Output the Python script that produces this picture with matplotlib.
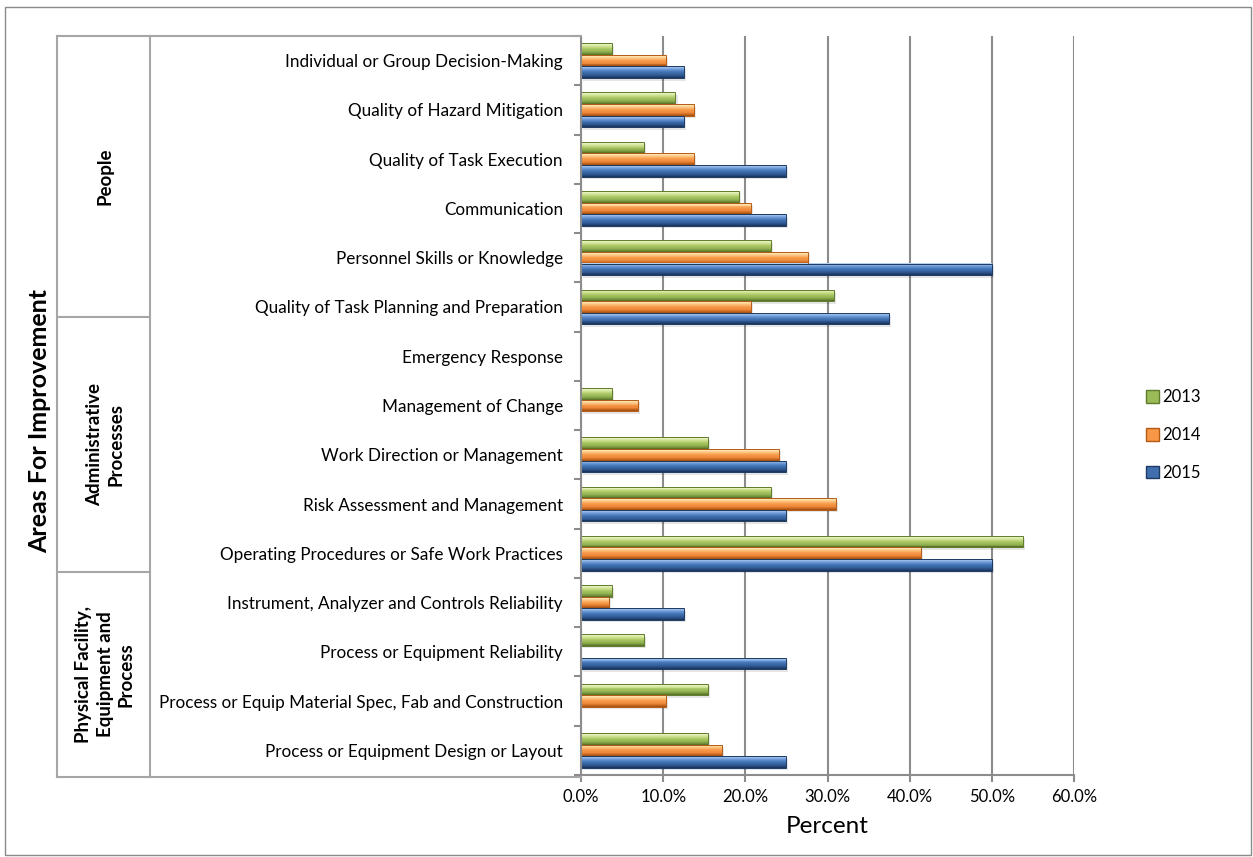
import numpy as np
import matplotlib.pyplot as plt
from matplotlib.patches import Rectangle, Patch
from matplotlib.lines import Line2D
from matplotlib.colors import LinearSegmentedColormap

plt.rcParams['font.family'] = ['Lato', 'DejaVu Sans']

categories = [
    'Individual or Group Decision-Making',
    'Quality of Hazard Mitigation',
    'Quality of Task Execution',
    'Communication',
    'Personnel Skills or Knowledge',
    'Quality of Task Planning and Preparation',
    'Emergency Response',
    'Management of Change',
    'Work Direction or Management',
    'Risk Assessment and Management',
    'Operating Procedures or Safe Work Practices',
    'Instrument, Analyzer and Controls Reliability',
    'Process or Equipment Reliability',
    'Process or Equip Material Spec, Fab and Construction',
    'Process or Equipment Design or Layout',
]
groups = ['People', 'Administrative\nProcesses', 'Physical Facility,\nEquipment and\nProcess']
group_sizes = [6, 5, 4]
years = ['2013', '2014', '2015']

# percent of incidents citing each area
pct_2013 = [3.8, 11.5, 7.7, 19.2, 23.1, 30.8, 0, 3.8, 15.4, 23.1, 53.8, 3.8, 7.7, 15.4, 15.4]
pct_2014 = [10.3, 13.8, 13.8, 20.7, 27.6, 20.7, 0, 6.9, 24.1, 31.0, 41.4, 3.4, 0, 10.3, 17.2]
pct_2015 = [12.5, 12.5, 25.0, 25.0, 50.0, 37.5, 0, 0, 25.0, 25.0, 50.0, 12.5, 25.0, 0, 25.0]

# top-to-bottom shading of the bevelled bars
shades = {
    '2013': [(0, '#f4fadc'), (0.15, '#e2efb4'), (0.35, '#c4da80'), (0.5, '#a6c462'),
             (0.7, '#94b453'), (0.88, '#718f39'), (1, '#516a24')],
    '2014': [(0, '#fff5cc'), (0.15, '#fedca4'), (0.35, '#fbb46a'), (0.5, '#f79646'),
             (0.7, '#ee8a3b'), (0.88, '#c4641d'), (1, '#9a4c0f')],
    '2015': [(0, '#c3daf6'), (0.15, '#8fb4e6'), (0.35, '#5a8bcb'), (0.5, '#4272b2'),
             (0.7, '#34619d'), (0.88, '#244778'), (1, '#183154')],
}
mid = {'2013': '#9bbb59', '2014': '#f79646', '2015': '#3f6fae'}
edge = {'2013': '#5f7b2c', '2014': '#b35b16', '2015': '#1d3a62'}

W, H = 1253, 857
fig = plt.figure(figsize=(W / 100, H / 100), dpi=100)


def fx(px):
    return px / W


def fy(py):
    return 1 - py / H


ax = fig.add_axes([fx(581), fy(775), fx(1074 - 581), (775 - 36) / H])

n = len(categories)
y = np.arange(n)
h = 0.236
nband = 12
series = [pct_2013, pct_2014, pct_2015]
for k, (yr, vals) in enumerate(zip(years, series)):
    yy = y + (k - 1) * h
    cmap = LinearSegmentedColormap.from_list('bev' + yr, shades[yr])
    # soft drop shadow
    ax.barh(yy + 0.05, vals, height=h, left=0.25, color='#000000', alpha=0.10,
            linewidth=0, zorder=2)
    # stack of thin bands, light on top and dark underneath
    bh = h / nband
    for j in range(nband):
        ax.barh(yy - h / 2 + (j + 0.5) * bh, vals, height=bh * 1.05,
                color=cmap((j + 0.5) / nband), linewidth=0, zorder=3)
    ax.barh(yy, vals, height=h, facecolor='none', edgecolor=edge[yr],
            linewidth=[0.7 if v > 0 else 0 for v in vals], zorder=5)

ax.set_xlim(0, 60)
ax.set_ylim(n - 0.5, -0.5)
ax.set_xticks(np.arange(0, 61, 10))
ax.set_xticklabels([f'{v:.1f}%' for v in np.arange(0, 61, 10)], fontsize=12)
ax.tick_params(axis='x', length=5, width=1.5, color='#8c8c8c', pad=5)
ax.xaxis.grid(True, color='#8c8c8c', linewidth=1.5, zorder=0)
ax.set_axisbelow(True)

ax.set_yticks(np.arange(n + 1) - 0.5)
ax.set_yticklabels([])
ax.tick_params(axis='y', which='major', length=5, width=1.5, color='#8c8c8c')
ax.set_yticks(y, minor=True)
ax.set_yticklabels(categories, minor=True, fontsize=12.3)
ax.tick_params(axis='y', which='minor', length=0, pad=13)

for s in ['top', 'right']:
    ax.spines[s].set_visible(False)
for s in ['left', 'bottom']:
    ax.spines[s].set_color('#8c8c8c')
    ax.spines[s].set_linewidth(1.5)
    ax.spines[s].set_zorder(6)

ax.set_xlabel('Percent', fontsize=17.5, labelpad=8)

# outer chart border
fig.patches.append(Rectangle((fx(5), fy(855)), fx(1251 - 5), (855 - 7) / H,
                             transform=fig.transFigure, fill=False,
                             edgecolor='#8a8a8a', linewidth=1))

# category-group table on the left
lc = '#a6a6a6'
lw = 1.5


def hline(x0, x1, py):
    fig.lines.append(Line2D([fx(x0), fx(x1)], [fy(py), fy(py)], color=lc, lw=lw,
                            transform=fig.transFigure))


def vline(px, y0, y1):
    fig.lines.append(Line2D([fx(px), fx(px)], [fy(y0), fy(y1)], color=lc, lw=lw,
                            transform=fig.transFigure))


hline(57, 581, 36)
hline(57, 581, 777)
vline(57, 36, 777)
vline(150, 36, 777)
group_edges = [36, 317, 572, 777]
for py in group_edges[1:-1]:
    hline(57, 150, py)
for g, top, bot in zip(groups, group_edges[:-1], group_edges[1:]):
    fig.text(fx(105), fy((top + bot) / 2), g, rotation=90, ha='center', va='center',
             fontsize=13.5, fontweight='bold', linespacing=1.3)

fig.text(fx(40), fy(421), 'Areas For Improvement', rotation=90, ha='center',
         va='center', fontsize=18, fontweight='bold')

handles = [Patch(facecolor=mid[yr], edgecolor=edge[yr]) for yr in years]
fig.legend(handles, years, loc='center left', bbox_to_anchor=(fx(1131), fy(435)),
           frameon=False, fontsize=12, handlelength=0.8, handleheight=0.8,
           handletextpad=0.15, labelspacing=1.3)

fig.savefig('out.png', dpi=100)
